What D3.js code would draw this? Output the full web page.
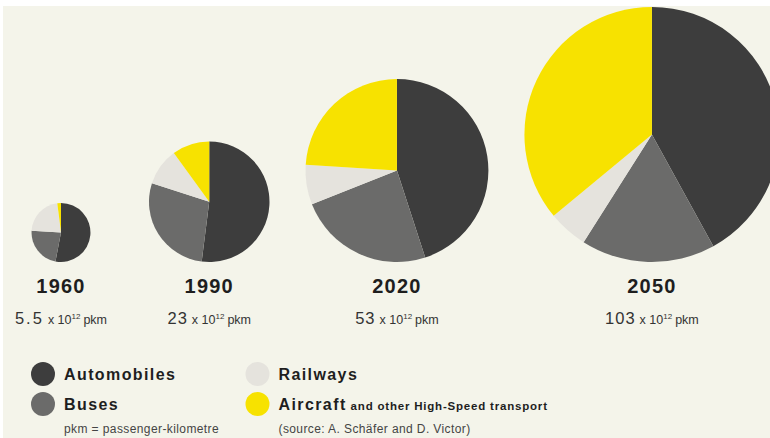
<!DOCTYPE html>
<html>
<head>
<meta charset="utf-8">
<script src="https://cdn.jsdelivr.net/npm/d3@7/dist/d3.min.js"></script>
<style>
  html, body { margin: 0; padding: 0; background: #ffffff; }
  svg { display: block; }
  text { font-family: "Liberation Sans", Arial, Helvetica, sans-serif; }
</style>
</head>
<body>
<svg id="chart" width="770" height="438"></svg>
<script>
// ---- data ----
const years = ["1960", "1990", "2020", "2050"];
const totals = [5.5, 23, 53, 103];            // x 10^12 pkm
const totalLabels = ["5.5", "23", "53", "103"];
const modes = ["Automobiles", "Buses", "Railways", "Aircraft"];
const automobiles = [53, 52, 45, 42];         // share, %
const buses       = [23, 28, 24, 17];
const railways    = [22, 10, 7, 5];
const aircraft    = [2, 10, 24, 36];

// ---- styles ----
const colors = d3.scaleOrdinal().domain(modes)
  .range(["#3d3d3d", "#6b6b6a", "#e5e3dd", "#f7e200"]);
const bg = "#f4f4ea";

const W = 770, H = 438;
const svg = d3.select("#chart");

svg.append("rect").attr("x", 3).attr("y", 6)
  .attr("width", W - 3).attr("height", H - 6).attr("fill", bg);

const gPies = svg.append("g");

// radius scale: area proportional to total volume
const r = d3.scaleSqrt().domain([0, d3.max(totals)]).range([0, 127.5]);

// layout: pies sit on a common baseline, laid out left to right
const baseY = 262;
const marginLeft = 9, minHalf = 52, gap = 36;
const cx = [];
years.forEach((y, i) => {
  const half = Math.max(r(totals[i]), minHalf);
  if (i === 0) cx.push(marginLeft + half);
  else cx.push(cx[i - 1] + Math.max(r(totals[i - 1]), minHalf) + gap + half);
});

const series = [automobiles, buses, railways, aircraft];
const pie = d3.pie().sort(null).value(d => d.value);

years.forEach((yr, i) => {
  const rad = r(totals[i]);
  const data = modes.map((m, j) => ({ mode: m, value: series[j][i] }));
  const arc = d3.arc().innerRadius(0).outerRadius(rad);
  const g = gPies.append("g").attr("transform", `translate(${cx[i]},${baseY - rad})`);
  g.selectAll("path").data(pie(data)).join("path")
    .attr("d", arc)
    .attr("fill", d => colors(d.data.mode));

  // year label
  svg.append("text")
    .attr("x", cx[i]).attr("y", 292.5)
    .attr("text-anchor", "middle")
    .attr("font-size", 20).attr("font-weight", "bold")
    .attr("letter-spacing", 1.2)
    .attr("fill", "#1e1e1e")
    .text(yr);

  // total label
  const t = svg.append("text")
    .attr("x", cx[i]).attr("y", 324)
    .attr("text-anchor", "middle")
    .attr("fill", "#333");
  t.append("tspan").attr("font-size", 16.5)
    .attr("letter-spacing", totalLabels[i].includes(".") ? 2 : 1).text(totalLabels[i]);
  t.append("tspan").attr("font-size", 12.5).attr("dx", 4).text("x 10");
  t.append("tspan").attr("font-size", 8).attr("dy", -5).text("12");
  t.append("tspan").attr("font-size", 12.5).attr("dy", 5).attr("dx", 3).text("pkm");
});

// ---- legend ----
const legendCols = [43, 257.5];
const legendRows = [374, 404];
const legendPos = [[0, 0], [0, 1], [1, 0], [1, 1]];
const leg = svg.append("g");
modes.forEach((m, k) => {
  const [c, rw] = legendPos[k];
  const x = legendCols[c], y = legendRows[rw];
  leg.append("circle").attr("cx", x).attr("cy", y).attr("r", 12)
    .attr("fill", colors(m));
  const t = leg.append("text")
    .attr("x", x + 21).attr("y", y + 6)
    .attr("font-size", 16).attr("font-weight", "bold")
    .attr("letter-spacing", 1.4)
    .attr("fill", "#1e1e1e");
  t.append("tspan").text(m);
  if (m === "Aircraft") {
    t.append("tspan").attr("font-size", 11.5).attr("letter-spacing", 0.8)
      .attr("dx", 4).text("and other High-Speed transport");
  }
});

leg.append("text").attr("x", 64).attr("y", 433)
  .attr("font-size", 12).attr("letter-spacing", 0.4).attr("fill", "#444")
  .text("pkm = passenger-kilometre");
leg.append("text").attr("x", 278.5).attr("y", 433)
  .attr("font-size", 12).attr("letter-spacing", 0.4).attr("fill", "#444")
  .text("(source: A. Schäfer and D. Victor)");
</script>
</body>
</html>
